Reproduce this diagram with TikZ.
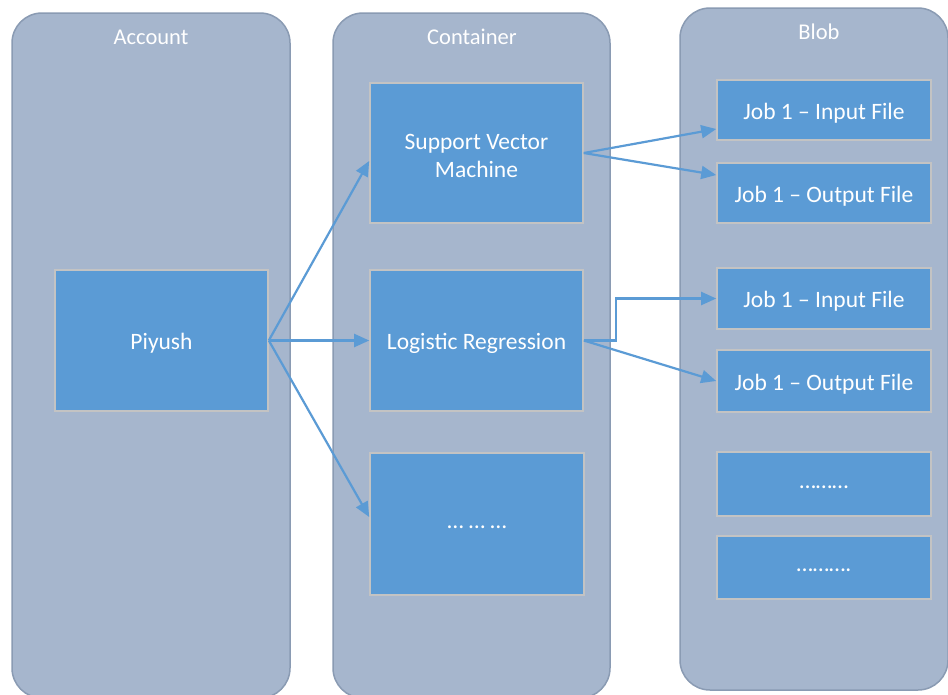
\documentclass[tikz,border=0pt]{standalone}
\usepackage{fontspec}
\setmainfont{Carlito}
\usetikzlibrary{arrows.meta,calc}
\definecolor{panelfill}{HTML}{A6B6CD}
\definecolor{paneldraw}{HTML}{8A9BB3}
\definecolor{boxfill}{HTML}{5B9BD5}
\definecolor{boxdraw}{HTML}{C3C3C3}
\definecolor{arrowc}{HTML}{5B9BD5}
\newcommand{\dn}[1]{\raisebox{-3pt}[\height][\depth]{#1}}
\tikzset{
  panel/.style={draw=paneldraw, fill=panelfill, line width=1.5pt, rounded corners=30pt},
  ptitle/.style={text=white, font=\fontsize{22.5}{26}\selectfont, inner sep=0pt},
  bigbox/.style={draw=boxdraw, fill=boxfill, line width=1.6pt, text=white,
    font=\fontsize{23.5}{28}\selectfont, align=center, inner sep=0pt,
    minimum width=213pt, minimum height=141pt},
  blobbox/.style={draw=boxdraw, fill=boxfill, line width=1.6pt, text=white,
    font=\fontsize{23.5}{26}\selectfont, align=center, inner sep=0pt,
    minimum width=214pt},
  conn/.style={draw=arrowc, line width=2.2pt, -{Triangle[length=15pt,width=13pt]}}
}
\begin{document}
\begin{tikzpicture}[x=1pt,y=-1pt]
\useasboundingbox (0,0) rectangle (948,694);
\clip (0,0) rectangle (948,694);
\fill[white] (0,0) rectangle (948,694);
% panels
\draw[panel] (12,13) rectangle (290,698);
\draw[panel] (333,13) rectangle (610,698);
\draw[panel] (680,8) rectangle (948,690);
\node[ptitle] (tAcc) at (151,37) {Account};
\node[ptitle] (tCon) at (472,37) {Container};
\node[ptitle] (tBlob) at (819,32) {Blob};
% account
\node[bigbox] (piyush) at (161.5,340.5) {\dn{Piyush}};
% container
\node[bigbox, minimum height=140pt] (svm) at (476.5,153) {\dn{Support Vector}\\\dn{Machine}};
\node[bigbox] (lr) at (476.5,340.5) {\dn{Logistic Regression}};
\node[bigbox, minimum width=214pt, minimum height=142pt] (etc) at (477,524) {\dn{… … …}};
% blob
\node[blobbox, minimum height=60pt] (in1) at (824,110) {\dn{Job 1 – Input File}};
\node[blobbox, minimum height=60pt] (out1) at (824,193) {\dn{Job 1 – Output File}};
\node[blobbox, minimum height=61pt] (in2) at (824,298.5) {\dn{Job 1 – Input File}};
\node[blobbox, minimum height=62pt] (out2) at (824,381) {\dn{Job 1 – Output File}};
\node[blobbox, minimum height=64pt] (b5) at (824,484) {\dn{………}};
\node[blobbox, minimum height=63pt] (b6) at (824,567.5) {\dn{……….}};
% connectors
\draw[conn] (piyush.east) -- ([yshift=-8pt]svm.west);
\draw[conn] (piyush.east) -- (lr.west);
\draw[conn] (piyush.east) -- ([yshift=7pt]etc.west);
\draw[conn] (svm.east) -- ([yshift=-19pt]in1.west);
\draw[conn] (svm.east) -- ([yshift=18pt]out1.west);
\draw[conn] (lr.east) -- ++(32,0) |- (in2.west);
\draw[conn] (lr.east) -- (out2.west);
\end{tikzpicture}
\end{document}
